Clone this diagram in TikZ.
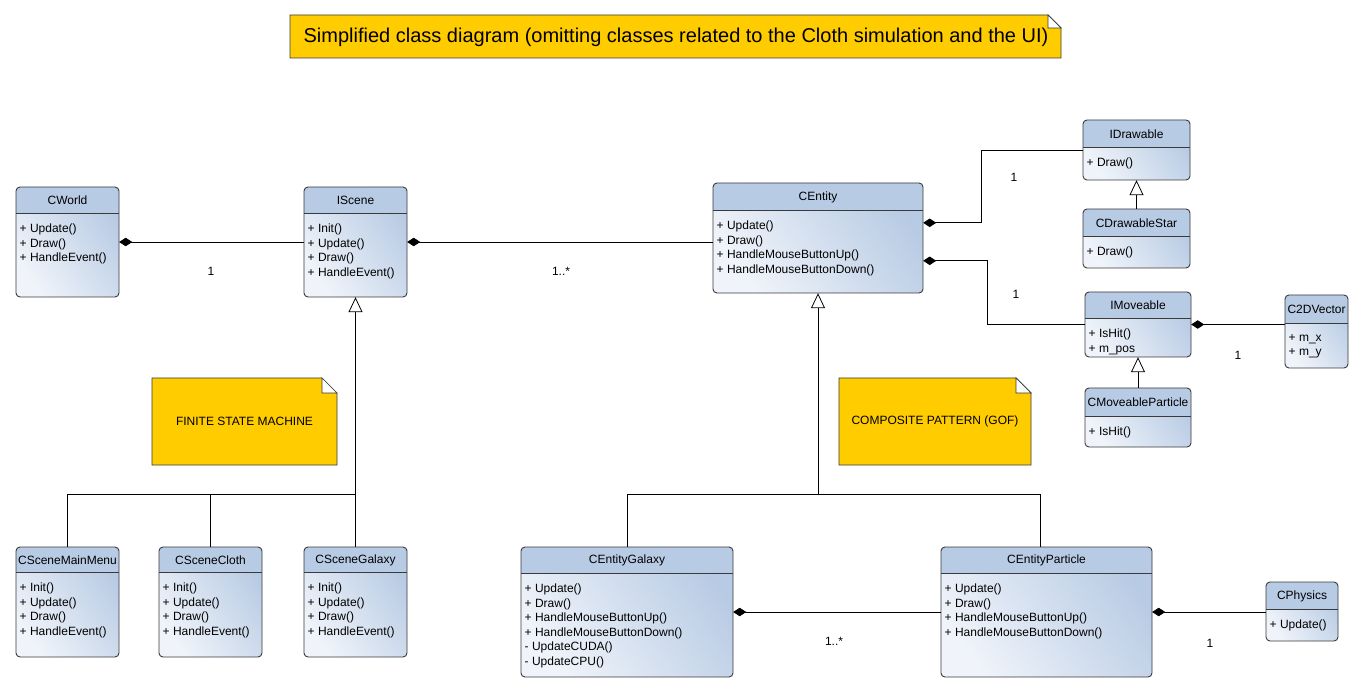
\documentclass[tikz,border=0pt]{standalone}
\usepackage{fontspec}
\setmainfont{Liberation Sans}
\usetikzlibrary{arrows.meta,fit,calc}
\definecolor{hdr}{HTML}{B8CBE4}
\definecolor{bodylight}{HTML}{F0F4FA}
\definecolor{notecol}{HTML}{FFCC00}
\definecolor{bord}{HTML}{3A3A3A}
\newcommand{\clsfont}{\fontsize{12}{14.5}\selectfont}
\newcommand{\umlclass}[8]{%
  \coordinate (#1-a) at (#2,#3);
  \coordinate (#1-b) at (#4,#5);
  \node[inner sep=0pt, fit=(#1-a)(#1-b)] (#1) {};
  \shade[bodyshade, rounded corners=4pt] (#1-a) rectangle (#1-b);
  \begin{scope}
    \clip[rounded corners=4pt] (#1-a) rectangle (#1-b);
    \fill[hdr] (#1-a) rectangle (#4,#6);
  \end{scope}
  \draw[bord, line width=0.8pt] (#2,#6) -- (#4,#6);
  \draw[classframe] (#1-a) rectangle (#1-b);
  \node[clstext] (#1-title) at ({(#2+#4)/2},{(#3+#6)/2+0.5}) {#7};
  \node[clstext, align=left, anchor=north west, inner sep=0pt] (#1-body) at ({#2+3.5},{#6+11}) {#8};
}
\newcommand{\umlnote}[7]{%
  \coordinate (#1-a) at (#2,#3);
  \coordinate (#1-b) at (#4,#5);
  \filldraw[notecol, draw=bord, line width=0.7pt] (#2,#3) -- ({#4-#6},#3) -- (#4,{#3+#6}) -- (#4,#5) -- (#2,#5) -- cycle;
  \filldraw[white, draw=bord, line width=0.7pt] ({#4-#6},#3) -- ({#4-#6},{#3+#6}) -- (#4,{#3+#6}) -- cycle;
  \node[inner sep=0pt, fit=(#1-a)(#1-b)] (#1) {};
  \node[font=\fontsize{12}{14}\selectfont] (#1-text) at (#1.center) {#7};
}
\tikzset{
  classframe/.style={draw=bord, line width=0.9pt, rounded corners=4pt},
  bodyshade/.style={top color=hdr, bottom color=bodylight, shading angle=-55},
  clstext/.style={font=\clsfont, text=black},
  conn/.style={black, line width=0.8pt},
  comp/.style={conn, {Diamond[length=13pt,width=8.5pt]}-},
  inh/.style={conn, {Triangle[open,length=15pt,width=14pt,fill=white]}-},
  mult/.style={font=\clsfont, text=black},
}
\begin{document}
\begin{tikzpicture}[x=1pt,y=-1pt]
\useasboundingbox (0,0) rectangle (1363,692);
\fill[white] (0,0) rectangle (1363,692);

% title note
\umlnote{title}{290}{15}{1061}{58}{13}{}
\node[font=\fontsize{20}{24}\selectfont] (titletext) at (676,37) {Simplified class diagram (omitting classes related to the Cloth simulation and the UI)};

% notes
\umlnote{fsm}{152}{378}{337}{465}{15}{FINITE STATE MACHINE}
\umlnote{gof}{839}{378}{1031}{465}{15}{COMPOSITE PATTERN (GOF)}

% classes
\umlclass{cworld}{16}{187}{119}{297}{213}{CWorld}{+ Update()\\+ Draw()\\+ HandleEvent()}
\umlclass{iscene}{304}{187}{407}{297}{213}{IScene}{+ Init()\\+ Update()\\+ Draw()\\+ HandleEvent()}
\umlclass{centity}{713}{183}{923}{293}{210}{CEntity}{+ Update()\\+ Draw()\\+ HandleMouseButtonUp()\\+ HandleMouseButtonDown()}
\umlclass{idrawable}{1083}{120}{1190}{180}{147}{IDrawable}{+ Draw()}
\umlclass{cdrawablestar}{1083}{209}{1190}{268}{236}{CDrawableStar}{+ Draw()}
\umlclass{imoveable}{1085}{292}{1191}{357}{318}{IMoveable}{+ IsHit()\\+ m\_pos}
\umlclass{cmoveableparticle}{1085}{388}{1191}{447}{416}{CMoveableParticle}{+ IsHit()}
\umlclass{c2dvector}{1285}{295}{1348}{368}{323}{C2DVector}{+ m\_x\\+ m\_y}
\umlclass{cscenemainmenu}{16}{547}{119}{657}{572}{CSceneMainMenu}{+ Init()\\+ Update()\\+ Draw()\\+ HandleEvent()}
\umlclass{cscenecloth}{159}{547}{262}{657}{572}{CSceneCloth}{+ Init()\\+ Update()\\+ Draw()\\+ HandleEvent()}
\umlclass{cscenegalaxy}{304}{547}{407}{657}{572}{CSceneGalaxy}{+ Init()\\+ Update()\\+ Draw()\\+ HandleEvent()}
\umlclass{centitygalaxy}{521}{547}{733}{677}{573}{CEntityGalaxy}{+ Update()\\+ Draw()\\+ HandleMouseButtonUp()\\+ HandleMouseButtonDown()\\- UpdateCUDA()\\- UpdateCPU()}
\umlclass{centityparticle}{941}{547}{1152}{677}{573}{CEntityParticle}{+ Update()\\+ Draw()\\+ HandleMouseButtonUp()\\+ HandleMouseButtonDown()}
\umlclass{cphysics}{1266}{582}{1338}{641}{609}{CPhysics}{+ Update()}

% compositions
\draw[comp] (cworld.east) -- (iscene.west);
\draw[comp] (iscene.east) -- (iscene.east -| centity.west);
\draw[comp] ($(centity.north east)+(0,40)$) -| ($(idrawable.west)+(-101,0)$) -- (idrawable.west);
\draw[comp] ($(centity.north east)+(0,78)$) -| ($(imoveable.west)+(-97,0)$) -- (imoveable.west);
\draw[comp] (imoveable.east) -- (imoveable.east -| c2dvector.west);
\draw[comp] (centitygalaxy.east) -- (centityparticle.west);
\draw[comp] (centityparticle.east) -- (centityparticle.east -| cphysics.west);

% inheritance
\draw[inh] (idrawable.south) -- (cdrawablestar.north);
\draw[inh] (imoveable.south) -- (cmoveableparticle.north);
\coordinate (sjoin) at ($(iscene.south)+(0,197)$);
\draw[inh] (iscene.south) -- (sjoin);
\draw[conn] (sjoin) -| (cscenemainmenu.north);
\draw[conn] (cscenecloth.north) -- (cscenecloth.north |- sjoin);
\draw[conn] (sjoin) -- (cscenegalaxy.north);
\coordinate (ejoin) at ($(centity.south)+(0,201)$);
\draw[inh] (centity.south) -- (ejoin);
\draw[conn] (ejoin) -| (centitygalaxy.north);
\draw[conn] (ejoin) -| ([xshift=-6pt]centityparticle.north);

% multiplicities
\node[mult] (m1) at (211,271) {1};
\node[mult] (m2) at (561,271) {1..*};
\node[mult] (m3) at (1014,177) {1};
\node[mult] (m4) at (1016,294) {1};
\node[mult] (m5) at (1238,355) {1};
\node[mult] (m6) at (834,641) {1..*};
\node[mult] (m7) at (1210,643) {1};
\end{tikzpicture}
\end{document}
